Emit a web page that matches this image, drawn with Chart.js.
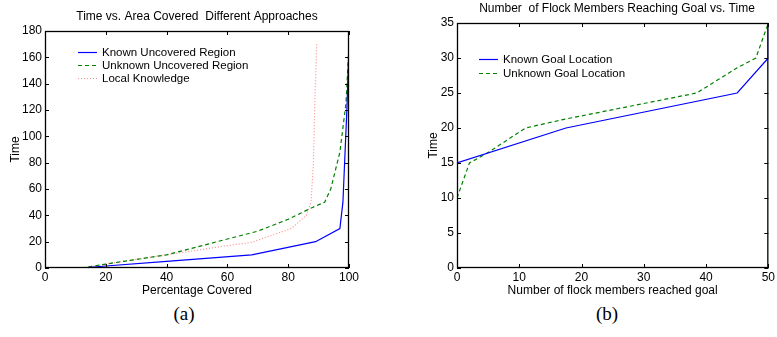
<!DOCTYPE html>
<html lang="en">
<head>
  <meta charset="UTF-8" />
  <title>Coverage and Flock Charts</title>
  <style>
    body {
      margin: 0;
      background: #fff;
      width: 777px;
      height: 337px;
      position: relative;
      overflow: hidden;
      font-family: 'Liberation Sans', Arial, sans-serif;
    }
    .plot {
      position: absolute;
      top: 0;
      height: 300px;
    }
    #plotA { left: 0; width: 390px; }
    #plotB { left: 390px; width: 387px; }
    .caption {
      position: absolute;
      top: 303px;
      font-family: 'Liberation Serif', 'DejaVu Serif', serif;
      font-size: 19px;
      transform: translateX(-50%);
    }
  </style>
</head>
<body>
  <div class="plot" id="plotA"><canvas id="chartA"></canvas></div>
  <div class="plot" id="plotB"><canvas id="chartB"></canvas></div>
  <div class="caption" style="left:184px">(a)</div>
  <div class="caption" style="left:607px">(b)</div>

  <script src="https://cdn.jsdelivr.net/npm/chart.js"></script>
  <script>
    // (a) time vs. percentage covered
    const knownRegionX = [12, 20, 40, 68, 89, 97, 98, 99.3, 100];
    const knownRegionY = [0, 1.5, 5, 10, 20, 30, 50, 120, 170];
    const unknownRegionX = [12, 20, 40, 60, 70, 80, 88, 92, 94, 97, 99, 100];
    const unknownRegionY = [0, 3, 10, 22, 28, 37, 46, 50, 60, 88, 125, 170];
    const localKnowX = [12, 20, 40, 60, 68, 81, 86, 87.5, 88.3, 88.8, 89.4];
    const localKnowY = [0, 3, 10, 17, 19.5, 30, 40, 50, 80, 130, 171];
    const xTicksA = [0, 20, 40, 60, 80, 100];
    const yTicksA = [0, 20, 40, 60, 80, 100, 120, 140, 160, 180];

    // (b) time vs. flock members at goal
    const knownGoalX = [0, 0, 17.5, 45, 50, 50];
    const knownGoalY = [0, 15, 20, 25, 30, 35];
    const unknownGoalX = [0, 0, 2, 5, 11, 17, 30, 38.5, 45, 48, 50];
    const unknownGoalY = [0, 10, 15, 16.5, 20, 21.2, 23.5, 25, 28.6, 30, 35];
    const xTicksB = [0, 10, 20, 30, 40, 50];
    const yTicksB = [0, 5, 10, 15, 20, 25, 30, 35];

    const blue = '#0000ff';
    const green = '#008000';
    const pink = '#ff8c8c';
    const sans = "'Liberation Sans', Arial, sans-serif";

    function pts(xs, ys) {
      return xs.map((x, i) => ({ x: x, y: ys[i] }));
    }

    // MATLAB style box: border, inward ticks, in-plot legend, title
    const boxPlugin = {
      id: 'matlabBox',
      afterDraw(chart, args, opts) {
        const ctx = chart.ctx;
        const a = chart.chartArea;
        const xs = chart.scales.x, ys = chart.scales.y;
        ctx.save();
        ctx.strokeStyle = '#000';
        ctx.lineWidth = 1.3;
        ctx.setLineDash([]);
        ctx.strokeRect(a.left + 0.5, a.top + 0.5, a.right - a.left - 1, a.bottom - a.top - 1);
        ctx.lineWidth = 1;
        ctx.beginPath();
        xs.ticks.forEach(t => {
          const px = Math.round(xs.getPixelForValue(t.value)) + 0.5;
          ctx.moveTo(px, a.bottom); ctx.lineTo(px, a.bottom - 4);
          ctx.moveTo(px, a.top); ctx.lineTo(px, a.top + 4);
        });
        ys.ticks.forEach(t => {
          const py = Math.round(ys.getPixelForValue(t.value)) + 0.5;
          ctx.moveTo(a.left, py); ctx.lineTo(a.left + 4, py);
          ctx.moveTo(a.right, py); ctx.lineTo(a.right - 4, py);
        });
        ctx.stroke();

        // title
        ctx.fillStyle = '#000';
        ctx.font = '12px ' + sans;
        ctx.textAlign = 'center';
        ctx.textBaseline = 'middle';
        ctx.fillText(opts.title, opts.titleX, opts.titleY);

        // legend
        ctx.textAlign = 'left';
        ctx.font = '11.5px ' + sans;
        chart.data.datasets.forEach((ds, i) => {
          const y = opts.legendY + i * opts.legendGap;
          ctx.strokeStyle = ds.borderColor;
          ctx.lineWidth = ds.borderWidth;
          ctx.setLineDash(ds.borderDash || []);
          ctx.beginPath();
          ctx.moveTo(opts.legendX, y + 0.5);
          ctx.lineTo(opts.legendX + 19, y + 0.5);
          ctx.stroke();
          ctx.fillText(ds.label, opts.legendX + 24, y + 1);
        });
        ctx.restore();
      }
    };

    function makeOptions(cfg) {
      return {
        responsive: true,
        maintainAspectRatio: false,
        animation: false,
        layout: { padding: { top: cfg.top, right: cfg.right, left: 0, bottom: 0 } },
        plugins: {
          legend: { display: false },
          tooltip: { enabled: false },
          matlabBox: cfg.box
        },
        scales: {
          x: {
            type: 'linear',
            min: cfg.xTicks[0],
            max: cfg.xTicks[cfg.xTicks.length - 1],
            afterBuildTicks: s => { s.ticks = cfg.xTicks.map(v => ({ value: v })); },
            afterFit: s => { s.height = 32; },
            grid: { display: false, drawTicks: false },
            border: { display: false },
            ticks: { color: '#000', font: { family: sans, size: 12 }, padding: 2, maxRotation: 0 },
            title: {
              display: true, text: cfg.xTitle, color: '#000',
              font: { family: sans, size: 12 }, padding: { top: 0, bottom: 2 }
            }
          },
          y: {
            type: 'linear',
            min: cfg.yTicks[0],
            max: cfg.yTicks[cfg.yTicks.length - 1],
            afterBuildTicks: s => { s.ticks = cfg.yTicks.map(v => ({ value: v })); },
            afterFit: s => { s.width = cfg.yWidth; },
            grid: { display: false, drawTicks: false },
            border: { display: false },
            ticks: { color: '#000', font: { family: sans, size: 12 }, padding: 3 },
            title: {
              display: true, text: 'Time', color: '#000',
              font: { family: sans, size: 12 }, padding: { top: cfg.yTitlePad, bottom: 0 }
            }
          }
        }
      };
    }

    function line(label, data, color, dash) {
      return {
        label: label,
        data: data,
        showLine: true,
        borderColor: color,
        borderWidth: 1.2,
        borderDash: dash,
        pointRadius: 0,
        fill: false,
        tension: 0
      };
    }

    new Chart(document.getElementById('chartA'), {
      type: 'scatter',
      data: {
        datasets: [
          line('Known Uncovered Region', pts(knownRegionX, knownRegionY), blue, []),
          line('Unknown Uncovered Region', pts(unknownRegionX, unknownRegionY), green, [4, 3]),
          line('Local Knowledge', pts(localKnowX, localKnowY), pink, [1, 2])
        ]
      },
      options: makeOptions({
        top: 31, right: 41, yWidth: 45, yTitlePad: 8,
        xTicks: xTicksA, yTicks: yTicksA,
        xTitle: 'Percentage Covered',
        box: {
          title: 'Time vs. Area Covered  Different Approaches',
          titleX: 197, titleY: 17,
          legendX: 78, legendY: 52, legendGap: 13
        }
      }),
      plugins: [boxPlugin]
    });

    new Chart(document.getElementById('chartB'), {
      type: 'scatter',
      data: {
        datasets: [
          line('Known Goal Location', pts(knownGoalX, knownGoalY), blue, []),
          line('Unknown Goal Location', pts(unknownGoalX, unknownGoalY), green, [4, 3])
        ]
      },
      options: makeOptions({
        top: 23, right: 7, yWidth: 67, yTitlePad: 36,
        xTicks: xTicksB, yTicks: yTicksB,
        xTitle: 'Number of flock members reached goal',
        box: {
          title: 'Number  of Flock Members Reaching Goal vs. Time',
          titleX: 227, titleY: 9,
          legendX: 89, legendY: 59, legendGap: 14
        }
      }),
      plugins: [boxPlugin]
    });
  </script>
</body>
</html>
